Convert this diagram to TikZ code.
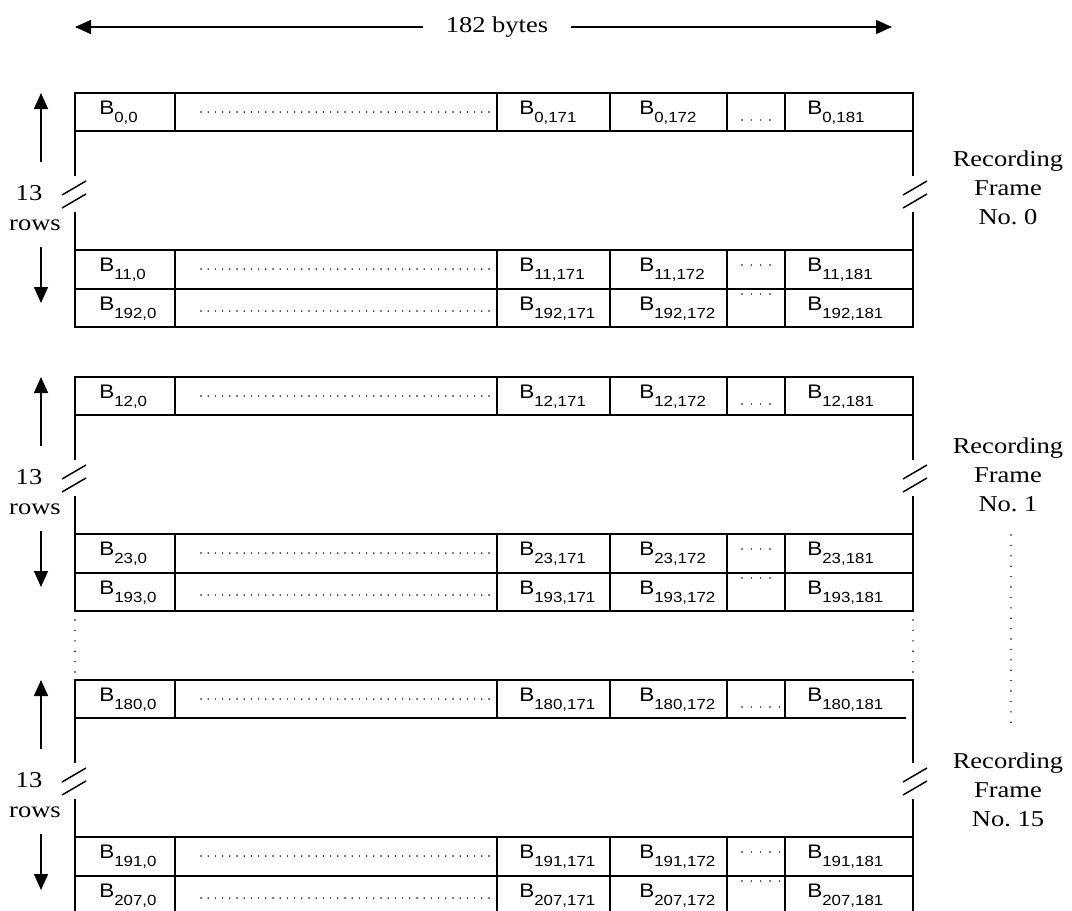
\documentclass[tikz,border=0pt]{standalone}
\usepackage{fontspec}
\setmainfont{Liberation Serif}[FakeStretch=1.17]
\setsansfont{Liberation Sans}[FakeStretch=1.15]
\usepackage{tikz}
\usetikzlibrary{arrows.meta}

\begin{document}
\begin{tikzpicture}[x=0.75pt, y=-0.75pt,
    outer/.style={line width=1.5pt},
    inner/.style={line width=1.1pt},
    brk/.style={line width=1.1pt},
    dimarrow/.style={line width=1.2pt, -{Triangle[length=12pt,width=10.5pt]}},
    dotline/.style={line width=1.2pt, line cap=round, dash pattern=on 0pt off 5.4pt},
    gapdots/.style={line width=1.2pt, line cap=round, dash pattern=on 0pt off 7pt},
    vdotline/.style={line width=1.2pt, line cap=round, dash pattern=on 0pt off 7.8pt},
    serif/.style={font=\fontsize{17}{21.75}\selectfont, inner sep=0pt},
    blab/.style={font=\sffamily\fontsize{14.7}{16}\selectfont, anchor=base west, inner sep=0pt}]
	\useasboundingbox (0,0) rectangle (1072,911);

	% width of a row
	\node[serif, inner xsep=17pt, inner ysep=2pt] (bytes) at (497,27) {182 bytes};
	\coordinate (bl) at (75,27);
	\coordinate (br) at (892,27);
	\draw[dimarrow] (bytes) -- (bl);
	\draw[dimarrow] (bytes) -- (br);

	% the recording frames
	\foreach \ft/\fn/\rowa/\rowb/\rowc/\fy/\rend/\dend in {93/0/0/11/192/95/913/771, 377/1/12/23/193/98/913/771, 680/15/180/191/207/110/906/780} {
		\draw[outer] (75,\ft+83) -- (75,\ft) -- (913,\ft) -- (913,\ft+83);
		\draw[outer] (75,\ft+119) -- (75,\ft+234) -- (913,\ft+234) -- (913,\ft+119);
		\draw[inner] (75,\ft+38) -- (\rend,\ft+38);
		\draw[inner] (75,\ft+157) -- (913,\ft+157) (75,\ft+196) -- (913,\ft+196);
		\foreach \cx in {175,497,610,727,785}
			\draw[inner] (\cx,\ft) -- (\cx,\ft+38) (\cx,\ft+157) -- (\cx,\ft+234);
		\draw[dotline] (201,\ft+19) -- (491,\ft+19) (201,\ft+176) -- (491,\ft+176) (201,\ft+218) -- (491,\ft+218);
		\draw[gapdots] (742,\ft+27) -- (\dend,\ft+27) (742,\ft+172) -- (\dend,\ft+172) (742,\ft+201) -- (\dend,\ft+201);
		% breaks in the side lines
		\foreach \bx in {74,915} {
			\draw[brk] (\bx-12,\ft+102) -- (\bx+12,\ft+88);
			\draw[brk] (\bx-12,\ft+115) -- (\bx+12,\ft+101);
		}
		% 13 rows
		\node[serif] (n13-\fn) at (29,\ft+100) {13};
		\node[serif] (rows-\fn) at (35,\ft+132) {rows};
		\draw[dimarrow] (41,\ft+69) -- (41,\ft);
		\draw[dimarrow] (41,\ft+154) -- (41,\ft+210);
		\node[serif, align=center] (frame-\fn) at (1008,\ft+\fy) {Recording\\Frame\\No.~\fn};
		% byte labels
		\foreach \rn/\ry in {\rowa/0,\rowb/157,\rowc/196}
			\foreach \cn/\cx in {0/99,171/519,172/639,181/807}
				\node[blab] (b\rn-\cn) at (\cx,\ft+\ry+21) {B\raisebox{-6.5pt}{\fontsize{11}{12}\selectfont\rn,\cn}};
	}

	% frames left out
	\draw[vdotline] (75,620) -- (75,673) (913,620) -- (913,673);
	\draw[vdotline] (1011,535) -- (1011,730);

\end{tikzpicture}
\end{document}
